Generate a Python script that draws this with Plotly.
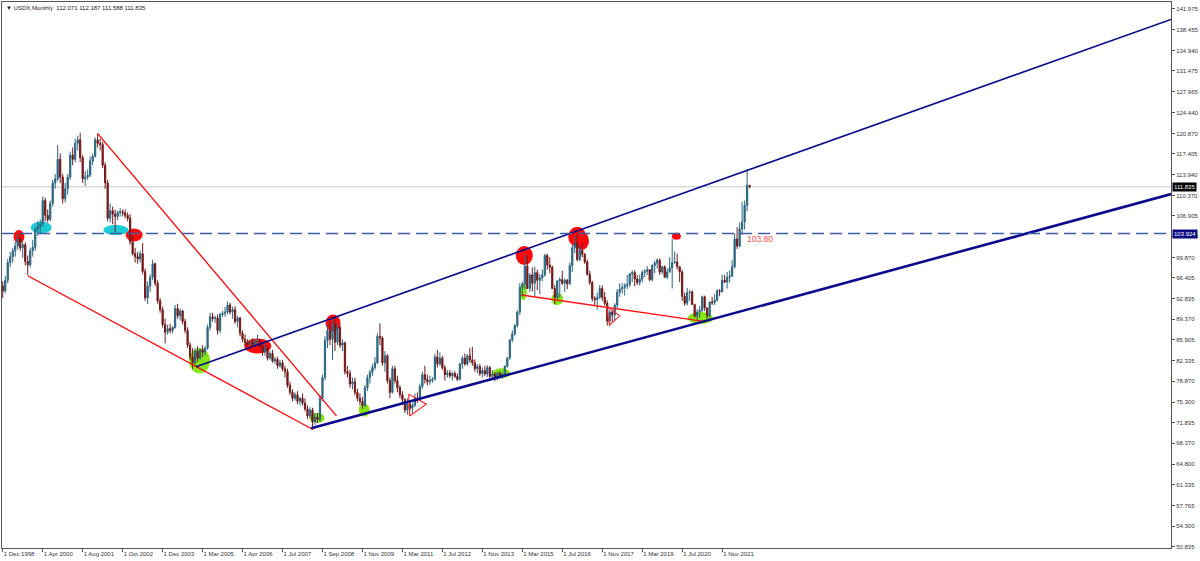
import plotly.graph_objects as go

# ---------------- data (monthly USDX bars, index 0 = Dec 1998) ----------------
opens = [
95.0,94.2,96.0,99.0,100.0,101.0,101.8,103.0,101.5,102.0,
99.2,98.6,101.0,101.6,104.6,105.0,105.5,109.5,107.0,106.3,
109.0,112.5,113.2,116.5,113.5,109.8,111.5,113.5,117.2,116.5,
119.2,119.8,116.8,113.2,113.5,113.8,116.2,117.0,119.8,119.2,
119.0,115.5,112.5,106.5,107.8,107.2,106.8,107.5,107.6,107.4,
107.0,106.5,102.5,100.5,100.0,99.6,100.5,97.5,93.0,95.0,
96.5,98.8,95.5,92.5,91.0,88.5,87.2,87.8,87.5,88.0,
91.2,90.0,90.8,89.0,87.5,85.0,83.0,82.0,84.0,82.8,
84.2,83.8,84.5,88.0,89.8,89.5,89.6,87.5,90.2,90.4,
90.6,91.8,90.6,91.0,89.0,89.6,87.0,86.0,85.4,85.2,
85.5,85.1,85.6,85.8,84.8,83.8,84.5,82.8,83.6,82.3,
82.6,81.5,82.0,81.0,80.5,78.2,77.0,76.0,76.6,75.5,
76.0,75.2,74.2,73.0,74.0,72.0,72.8,72.4,76.0,79.5,
85.8,87.5,86.0,88.5,85.5,88.0,85.0,85.4,80.5,80.2,
78.4,78.8,77.0,76.0,75.5,74.8,77.8,79.5,80.4,81.2,
82.0,86.5,86.2,82.0,83.2,79.0,77.0,81.0,79.0,77.8,
76.6,75.8,74.0,75.0,74.3,74.8,76.0,75.8,78.0,80.0,
79.2,78.8,79.0,79.2,83.0,81.8,82.8,81.2,80.0,80.3,
79.8,80.2,79.7,79.2,81.8,82.8,81.8,83.2,82.5,82.0,
81.0,81.4,80.2,80.7,80.1,81.2,79.7,80.1,79.5,80.3,
79.8,80.1,81.4,82.8,85.9,86.9,88.3,90.6,94.8,95.3,
98.4,94.6,96.9,95.5,97.3,96.0,96.4,96.9,100.2,98.6,
98.2,94.6,93.1,95.9,96.1,95.5,96.0,95.4,98.5,101.5,
102.2,99.5,101.1,100.4,99.1,97.0,95.6,92.9,92.7,93.1,
94.6,93.1,92.1,89.1,90.6,90.1,91.8,94.0,94.5,94.8,
95.1,95.3,97.1,97.3,96.2,95.6,96.2,97.3,97.5,97.8,
96.1,98.5,98.9,99.4,97.4,98.3,96.5,97.4,98.1,99.0,
99.1,98.3,97.4,93.3,92.1,93.9,94.0,91.9,89.9,90.6,
90.9,93.2,91.3,90.0,92.3,92.2,92.6,94.2,94.1,96.0,
95.7,96.5,96.7,98.3,103.0,101.8,104.7,105.9,108.7,112.071,
]
highs = [
95.8,96.8,99.6,100.8,101.5,102.5,103.8,104.0,102.6,102.4,
100.2,101.5,102.8,105.0,106.0,106.3,110.2,110.0,108.0,109.5,
113.0,114.0,118.9,117.5,114.0,112.5,114.0,117.8,118.5,120.0,
120.5,121.0,117.2,114.5,114.8,117.0,117.5,120.2,120.9,120.0,
119.5,116.0,113.0,109.0,108.5,108.0,107.8,108.2,108.0,108.0,
107.5,107.2,103.5,101.5,100.8,101.0,102.3,98.0,95.8,97.0,
99.5,99.0,96.0,93.0,91.5,89.5,88.5,88.6,88.2,91.8,
92.0,91.2,91.0,89.5,88.0,85.5,84.5,84.5,84.8,84.5,
85.0,84.8,88.5,90.5,90.5,90.0,90.2,90.5,90.8,91.5,
92.4,92.2,91.5,91.6,90.0,89.8,87.5,86.8,86.0,86.0,
86.2,86.0,86.8,86.0,85.5,85.2,85.0,84.0,84.2,83.0,
83.0,82.5,82.5,81.5,81.0,78.8,77.5,77.0,77.2,76.2,
76.8,76.0,74.8,74.5,74.4,73.5,73.5,76.5,80.0,86.5,
88.5,89.0,89.5,89.6,88.8,88.5,86.0,85.6,81.5,80.8,
79.5,79.5,77.6,76.8,76.2,78.2,80.0,80.8,81.8,83.0,
87.0,88.7,86.5,84.0,83.5,79.5,81.5,81.5,79.8,78.2,
77.2,76.0,76.0,75.5,75.2,76.8,77.0,78.5,80.5,81.5,
80.0,79.8,79.6,83.5,84.2,83.8,83.2,81.6,80.8,80.8,
80.5,80.6,80.2,82.0,83.2,83.6,83.5,84.5,84.7,82.6,
81.8,81.8,81.2,81.5,81.6,81.5,80.8,80.4,80.5,80.6,
80.4,81.6,83.0,86.0,87.5,88.6,90.9,95.5,95.8,100.4,
100.2,97.2,98.2,98.3,97.8,97.0,97.8,100.5,100.5,99.9,
98.5,95.2,96.0,96.5,97.6,96.3,96.2,99.0,102.0,103.6,
103.8,101.8,102.3,100.6,99.5,97.6,95.9,93.3,93.9,95.2,
95.1,94.0,92.6,91.0,91.0,92.1,94.5,95.5,95.5,95.5,
96.9,97.2,97.7,97.7,96.9,96.9,97.7,97.9,98.4,97.9,
98.7,99.3,99.7,99.7,98.5,98.5,98.0,99.9,103.0,100.9,
100.5,98.4,97.8,93.9,94.7,94.3,94.3,92.0,91.1,91.6,
93.4,93.4,91.4,92.4,93.2,93.7,94.5,94.5,96.9,96.9,
97.4,97.7,99.4,103.9,105.0,105.8,109.3,109.5,114.8,112.187,
]
lows = [
93.0,93.8,95.5,98.2,99.0,100.0,101.2,101.0,99.8,98.5,
96.9,98.2,100.0,101.0,103.5,104.0,105.0,106.0,105.8,106.0,
108.5,111.5,112.8,112.5,109.0,109.2,110.5,113.0,115.5,116.0,
118.0,116.0,112.5,112.0,113.0,113.5,115.5,116.8,118.5,118.0,
115.0,111.5,106.0,105.8,105.5,104.2,106.2,106.8,106.8,106.5,
106.0,102.0,100.2,99.0,98.8,99.0,97.0,92.5,92.0,94.0,
96.0,95.0,92.0,90.5,88.0,85.3,86.8,87.0,87.0,87.8,
89.5,89.2,88.5,87.0,84.5,82.5,81.0,81.5,82.2,82.5,
83.0,83.2,84.2,87.5,89.0,88.8,86.8,87.0,89.8,89.8,
90.2,90.2,89.5,88.6,88.0,86.5,85.5,84.8,84.8,84.8,
84.9,84.8,85.2,84.4,83.2,83.2,82.4,82.5,82.0,81.8,
81.0,81.2,80.6,79.5,77.8,76.5,75.5,75.6,75.0,74.8,
74.8,73.8,72.5,72.6,70.9,71.5,71.8,72.0,75.5,79.0,
84.5,85.0,82.5,84.0,85.0,84.5,84.0,80.0,79.5,77.8,
77.5,76.5,75.5,74.8,74.2,74.5,77.2,78.5,79.8,80.8,
81.8,85.0,81.5,80.5,78.5,76.0,76.8,78.5,77.0,76.0,
75.0,73.5,73.2,73.8,73.5,74.5,75.2,75.5,77.6,78.5,
78.2,78.3,78.6,79.0,81.2,81.5,80.8,79.0,79.5,79.4,
79.0,79.4,78.9,79.0,81.0,81.5,81.5,82.0,81.5,80.5,
80.2,79.8,79.5,79.8,79.6,79.4,79.4,78.9,79.0,79.3,
79.3,79.9,81.2,82.5,85.5,86.6,88.0,90.1,93.2,94.5,
94.5,94.0,94.1,93.3,94.3,93.6,95.8,96.6,97.8,97.2,
94.5,91.9,92.6,93.0,95.2,94.0,94.5,95.2,97.4,100.6,
99.2,99.2,99.9,98.8,96.8,95.2,92.4,91.8,91.0,92.8,
92.5,91.7,88.3,88.2,88.9,89.0,91.2,93.2,93.7,93.4,
94.5,94.8,95.7,95.0,95.2,95.1,95.7,96.5,96.9,95.8,
95.8,97.2,98.0,96.9,97.0,96.4,96.2,97.3,94.6,98.8,
97.8,95.7,92.5,91.7,91.7,92.5,91.8,89.7,89.2,89.7,
90.6,90.8,89.5,89.7,91.8,91.8,92.4,93.3,93.9,95.5,
94.6,95.6,96.6,98.0,101.3,101.6,103.7,104.6,107.7,111.588,
]
closes = [
94.2,96.0,99.0,100.0,101.0,101.8,103.0,101.5,102.0,99.2,
98.6,101.0,101.6,104.6,105.0,105.5,109.5,107.0,106.3,109.0,
112.5,113.2,116.5,113.5,109.8,111.5,113.5,117.2,116.5,119.2,
119.8,116.8,113.2,113.5,113.8,116.2,117.0,119.8,119.2,119.0,
115.5,112.5,106.5,107.8,107.2,106.8,107.5,107.6,107.4,107.0,
106.5,102.5,100.5,100.0,99.6,100.5,97.5,93.0,95.0,96.5,
98.8,95.5,92.5,91.0,88.5,87.2,87.8,87.5,88.0,91.2,
90.0,90.8,89.0,87.5,85.0,83.0,82.0,84.0,82.8,84.2,
83.8,84.5,88.0,89.8,89.5,89.6,87.5,90.2,90.4,90.6,
91.8,90.6,91.0,89.0,89.6,87.0,86.0,85.4,85.2,85.5,
85.1,85.6,85.8,84.8,83.8,84.5,82.8,83.6,82.3,82.6,
81.5,82.0,81.0,80.5,78.2,77.0,76.0,76.6,75.5,76.0,
75.2,74.2,73.0,74.0,72.0,72.8,72.4,76.0,79.5,85.8,
87.5,86.0,88.5,85.5,88.0,85.0,85.4,80.5,80.2,78.4,
78.8,77.0,76.0,75.5,74.8,77.8,79.5,80.4,81.2,82.0,
86.5,86.2,82.0,83.2,79.0,77.0,81.0,79.0,77.8,76.6,
75.8,74.0,75.0,74.3,74.8,76.0,75.8,78.0,80.0,79.2,
78.8,79.0,79.2,83.0,81.8,82.8,81.2,80.0,80.3,79.8,
80.2,79.7,79.2,81.8,82.8,81.8,83.2,82.5,82.0,81.0,
81.4,80.2,80.7,80.1,81.2,79.7,80.1,79.5,80.3,79.8,
80.1,81.4,82.8,85.9,86.9,88.3,90.6,94.8,95.3,98.4,
94.6,96.9,95.5,97.3,96.0,96.4,96.9,100.2,98.6,98.2,
94.6,93.1,95.9,96.1,95.5,96.0,95.4,98.5,101.5,102.2,
99.5,101.1,100.4,99.1,97.0,95.6,92.9,92.7,93.1,94.6,
93.1,92.1,89.1,90.6,90.1,91.8,94.0,94.5,94.8,95.1,
95.3,97.1,97.3,96.2,95.6,96.2,97.3,97.5,97.8,96.1,
98.5,98.9,99.4,97.4,98.3,96.5,97.4,98.1,99.0,99.1,
98.3,97.4,93.3,92.1,93.9,94.0,91.9,89.9,90.6,90.9,
93.2,91.3,90.0,92.3,92.2,92.6,94.2,94.1,96.0,95.7,
96.5,96.7,98.3,103.0,101.8,104.7,105.9,108.7,112.1,111.835,
]

x_tick_bars = [0, 16, 32, 48, 64, 80, 96, 112, 128, 144, 160, 176, 192, 208, 224, 240, 256, 272, 288]
x_tick_labels = ["1 Dec 1998", "1 Apr 2000", "1 Aug 2001", "1 Oct 2002", "1 Dec 2003", "1 Mar 2005",
                 "1 Apr 2006", "1 Jul 2007", "1 Sep 2008", "1 Nov 2009", "1 Mar 2011", "1 Jul 2012",
                 "1 Nov 2013", "1 Mar 2015", "1 Jul 2016", "1 Nov 2017", "1 Mar 2019", "1 Jul 2020",
                 "1 Nov 2021"]

y_tick_labels = ["141.975", "138.455", "134.940", "131.475", "127.965", "124.440", "120.870", "117.405",
                 "113.940", "110.370", "106.905", "103.440", "99.870", "96.405", "92.835", "89.370",
                 "85.905", "82.335", "78.870", "75.300", "71.835", "68.370", "64.800", "61.335",
                 "57.765", "54.300", "50.835"]

level_price = 103.924
last_price = 111.835
note_text = "103.80"
note_price = 102.99
note_bar = 297.3

# trendlines: (bar, price) anchors
upper_channel = [(77.4, 81.35), (467.7, 140.2)]
lower_channel = [(123.5, 70.9), (467.7, 110.6)]
red_fall = [(38.1, 120.8), (133.6, 73.0)]
red_low = [(10.0, 96.77), (124.2, 70.7)]
red_2014 = [(207.7, 93.5), (281.3, 89.0)]
tri_2011 = [(162.5, 76.7), (169.6, 75.0), (162.9, 73.0), (162.5, 76.7)]
tri_2017 = [(241.7, 91.66), (247.0, 89.96), (242.9, 88.4), (241.7, 91.66)]

# highlight marks: bar, price
red_mark_bar = [6.5, 52.6, 102.1, 132.2, 208.8, 230.0, 231.9, 269.7]
red_mark_price = [103.4, 103.67, 84.86, 88.75, 100.2, 103.38, 102.69, 103.45]
cyan_mark_bar = [15.4, 45.3]
cyan_mark_price = [104.94, 104.5]
green_mark_bar = [78.8, 125.9, 144.7, 199.6, 208.4, 222.0, 279.3]
green_mark_price = [82.35, 72.65, 74.0, 80.23, 94.06, 92.82, 89.6]

# ---------------- styles ----------------
red_mark_size = [(11, 13), (17, 13), (27, 15), (15, 17), (17, 19), (18, 20), (14, 18), (9, 7)]
cyan_mark_size = [(21, 12), (25, 10)]
green_mark_size = [(21, 25), (15, 10), (11, 13), (18, 10), (7, 17), (12, 12), (25, 12)]

FONT = "Liberation Sans"
bars = list(range(len(closes)))

fig = go.Figure()
fig.add_trace(go.Candlestick(
    x=bars, open=opens, high=highs, low=lows, close=closes,
    increasing=dict(line=dict(color="#2c6580", width=1), fillcolor="#1f7196"),
    decreasing=dict(line=dict(color="#6e1a1a", width=1), fillcolor="#8b0f0f"),
    whiskerwidth=0, showlegend=False, hoverinfo="skip",
))

def add_line(pts, color, width):
    fig.add_trace(go.Scatter(x=[p[0] for p in pts], y=[p[1] for p in pts], mode="lines",
                             line=dict(color=color, width=width), showlegend=False, hoverinfo="skip"))

add_line(red_fall, "#ff0000", 1.3)
add_line(red_low, "#ff0000", 1.3)
add_line(red_2014, "#ff1010", 1.3)
add_line(tri_2011, "#ff2020", 1.1)
add_line(tri_2017, "#ff2020", 1.1)
add_line(upper_channel, "#0a0a8c", 1.6)
add_line(lower_channel, "#0a0a8c", 2.6)

shapes = []
def ellipse(b, p, w, h, color):
    shapes.append(dict(type="circle", xref="x", yref="y", xsizemode="pixel", ysizemode="pixel",
                       xanchor=b, yanchor=p, x0=-w / 2, x1=w / 2, y0=-h / 2, y1=h / 2,
                       fillcolor=color, line=dict(width=0), layer="below"))

for b, p, (w, h) in zip(red_mark_bar, red_mark_price, red_mark_size):
    ellipse(b, p, w, h, "#ff0a0a")
for b, p, (w, h) in zip(cyan_mark_bar, cyan_mark_price, cyan_mark_size):
    ellipse(b, p, w, h, "#1ccbd6")
for b, p, (w, h) in zip(green_mark_bar, green_mark_price, green_mark_size):
    ellipse(b, p, w, h, "#84e414")

# current price line and level line
shapes.append(dict(type="line", xref="paper", yref="y", x0=0, x1=1, y0=last_price, y1=last_price,
                   line=dict(color="#c8c8c0", width=1), layer="below"))
shapes.append(dict(type="line", xref="paper", yref="y", x0=0, x1=1, y0=level_price, y1=level_price,
                   line=dict(color="#3d5fa8", width=1.3, dash="12px,6px"), layer="above"))

annotations = [
    dict(text="▼ USDX,Monthly  112.071 112.187 111.588 111.835", xref="paper", yref="paper",
         x=0.002, y=0.998, xanchor="left", yanchor="top", showarrow=False,
         font=dict(family=FONT, size=6, color="#202020")),
    dict(text=note_text, xref="x", yref="y", x=note_bar, y=note_price, xanchor="left", yanchor="middle",
         showarrow=False, font=dict(family=FONT, size=8.5, color="#ff4a4a")),
    dict(text=f"{last_price:.3f}", xref="paper", yref="y", x=1.0, y=last_price, xanchor="left",
         yanchor="middle", showarrow=False, bgcolor="#000000", borderpad=1, xshift=1,
         font=dict(family=FONT, size=6, color="#ffffff")),
    dict(text=f"{level_price:.3f}", xref="paper", yref="y", x=1.0, y=level_price, xanchor="left",
         yanchor="middle", showarrow=False, bgcolor="#0a0a80", borderpad=1, xshift=1,
         font=dict(family=FONT, size=6, color="#ffffff")),
]

fig.update_layout(
    width=1200, height=561,
    margin=dict(l=2, r=29, t=2, b=13, pad=0, autoexpand=False),
    paper_bgcolor="#ffffff", plot_bgcolor="#ffffff",
    shapes=shapes, annotations=annotations,
    showlegend=False,
    xaxis=dict(range=[-0.3, 467.7], rangeslider=dict(visible=False), showgrid=False, zeroline=False,
               tickmode="array", tickvals=x_tick_bars, ticktext=x_tick_labels, tickangle=0,
               ticks="outside", ticklen=3, tickcolor="#555555", ticklabelposition="outside right",
               tickfont=dict(family=FONT, size=6, color="#333333"), automargin=False,
               showline=True, linecolor="#555555", linewidth=1, mirror=True),
    yaxis=dict(range=[50.62, 143.16], side="right", showgrid=False, zeroline=False,
               tickmode="array", tickvals=[float(t) for t in y_tick_labels], ticktext=y_tick_labels,
               ticks="outside", ticklen=3, tickcolor="#555555", automargin=False,
               tickfont=dict(family=FONT, size=6, color="#333333"),
               showline=True, linecolor="#555555", linewidth=1, mirror=True),
)

fig.write_html("out.html", config={"displayModeBar": False},
               post_script="document.body.style.margin='0px';document.body.style.overflow='hidden';")
